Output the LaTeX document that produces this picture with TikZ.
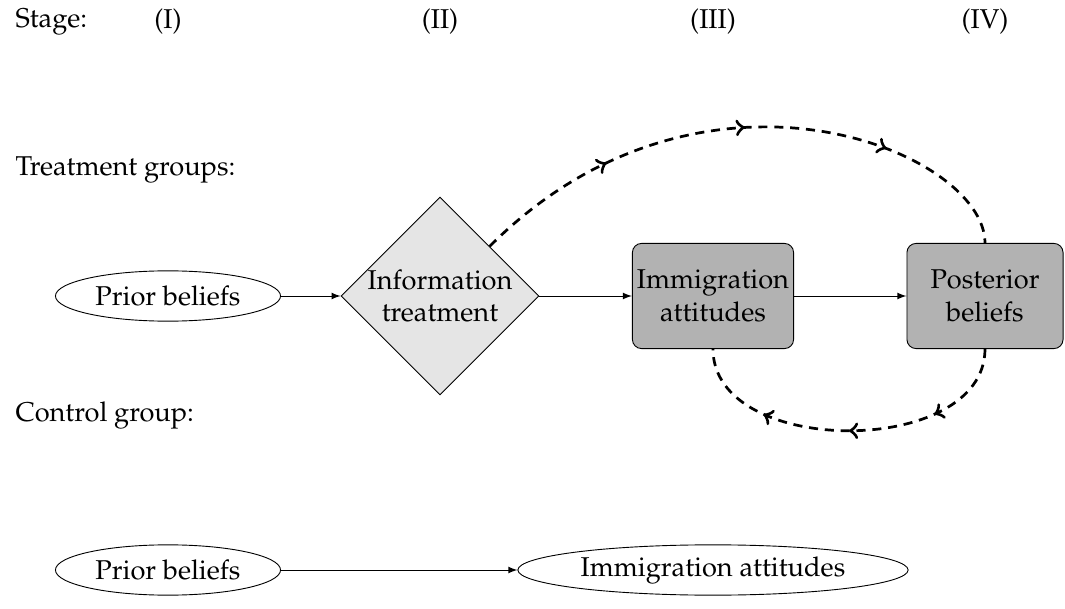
\documentclass[12pt,tikz,border=0pt]{standalone}
\usepackage[T1]{fontenc}
\usepackage{mathpazo}
\usetikzlibrary{shapes.geometric,decorations.markings}

\begin{document}
\begin{tikzpicture}[x=0.0155cm,y=0.0155cm,
  belief/.style={draw, ellipse, minimum width=3.49cm, minimum height=0.78cm, inner sep=0pt},
  treat/.style={draw, diamond, fill=gray!20, align=center, minimum width=3.04cm, minimum height=3.04cm, inner sep=0pt},
  outcome/.style={draw, rounded corners=4pt, fill=gray!60, align=center, minimum width=2.42cm, minimum height=1.63cm, inner sep=2pt},
  flow/.style={->, >=latex},
  feedback/.style={very thick, dash pattern=on 4pt off 3pt, postaction={decorate},
    decoration={markings, mark=at position 0.25 with {\arrow[scale=1.2]{to}},
      mark=at position 0.5 with {\arrow[scale=1.2]{to}}, mark=at position 0.75 with {\arrow[scale=1.2]{to}}}}]
  \useasboundingbox (0,0) rectangle (1065,608);
  % row labels
  \node[anchor=west] (stage) at (6,586) {Stage:};
  \node[anchor=west] (treatlbl) at (6,438) {Treatment groups:};
  \node[anchor=west] (ctrllbl) at (6,193) {Control group:};
  % treatment row
  \node[belief] (prior) at (168,312) {Prior beliefs};
  \node[treat] (info) at (440,312) {Information\\treatment};
  \node[outcome] (imm) at (713,312) {Immigration\\attitudes};
  \node[outcome] (post) at (985,312) {Posterior\\beliefs};
  % stages
  \node (st1) at (prior |- stage) {(I)};
  \node (st2) at (info |- stage) {(II)};
  \node (st3) at (imm |- stage) {(III)};
  \node (st4) at (post |- stage) {(IV)};
  % control row
  \node[belief] (prior2) at (168,38) {Prior beliefs};
  \node[belief, minimum width=6.05cm] (imm2) at (713,38) {Immigration attitudes};
  \draw[flow] (prior) -- (info);
  \draw[flow] (info) -- (imm);
  \draw[flow] (imm) -- (post);
  \draw[flow] (prior2) -- (imm2);
  \draw[feedback] (info.45) .. controls +(45:300) and +(0,92) .. (post.north);
  \draw[feedback] (post.south) .. controls +(0,-109) and +(0,-109) .. (imm.south);
\end{tikzpicture}
\end{document}
